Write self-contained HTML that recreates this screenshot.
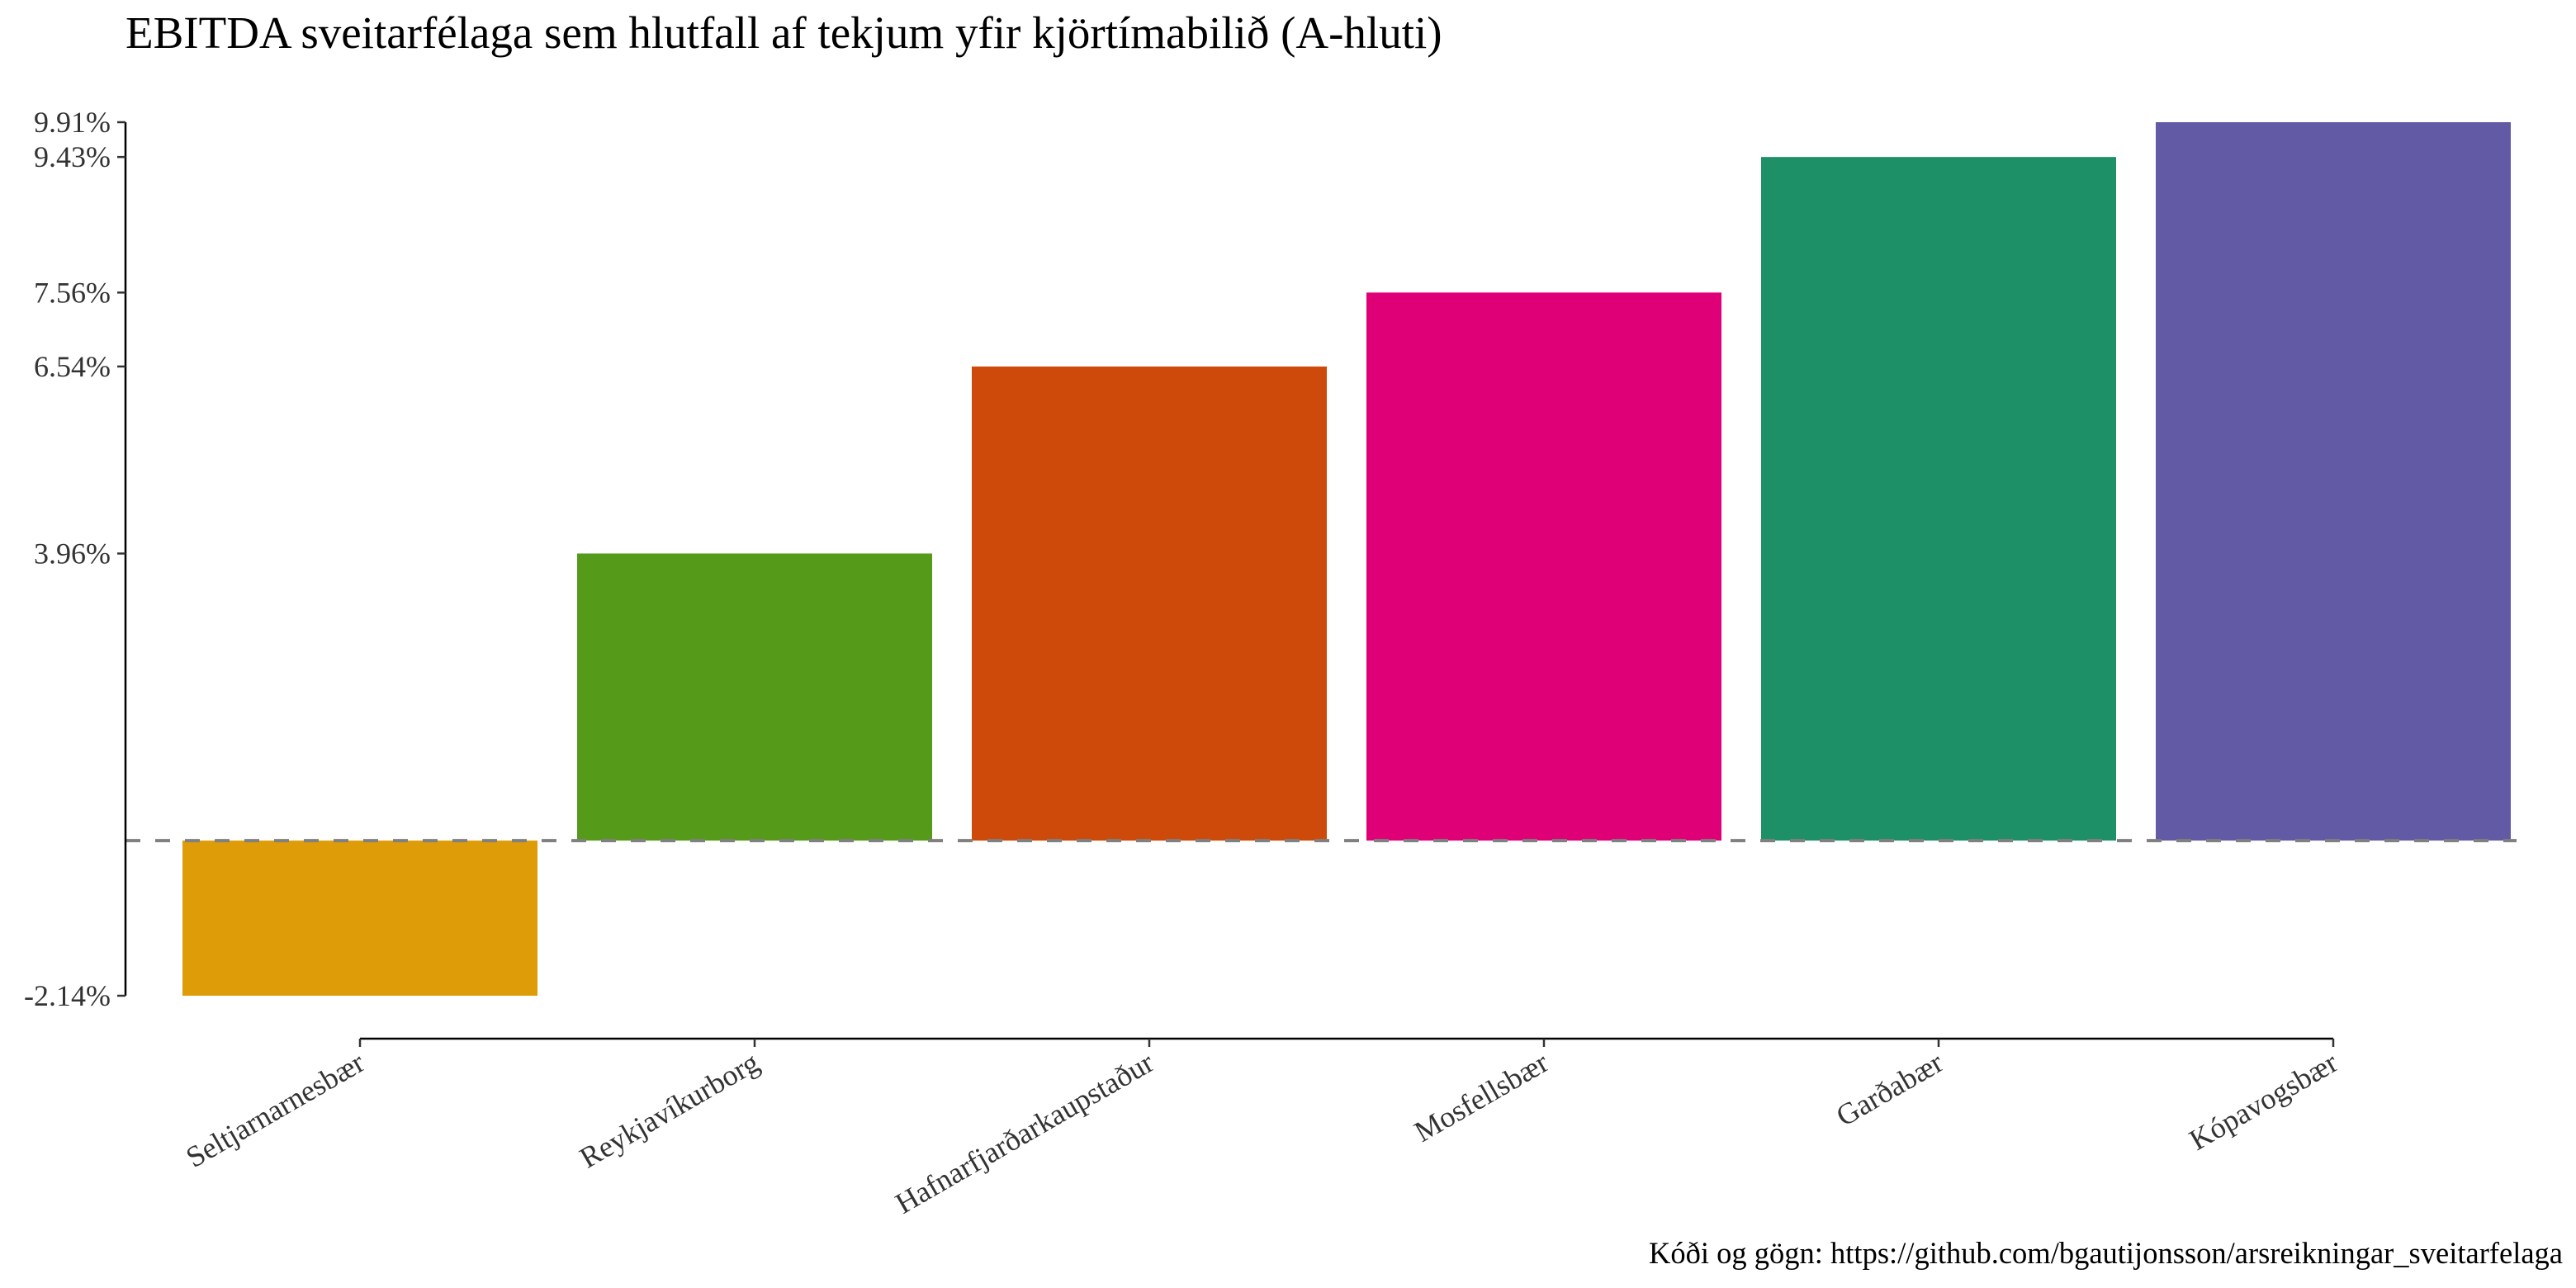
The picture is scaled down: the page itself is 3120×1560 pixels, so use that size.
<!DOCTYPE html>
<html><head><meta charset="utf-8"><style>
html,body{margin:0;padding:0;background:#fff;}
svg{display:block;font-family:"Liberation Serif",serif;}
</style></head><body>
<svg id="chart" width="3120" height="1560" viewBox="0 0 3120 1560">
<text x="152" y="58" font-size="55" fill="#000">EBITDA sveitarfélaga sem hlutfall af tekjum yfir kjörtímabilið (A-hluti)</text>
<g id="bars"></g>
<g id="yaxis"></g>
<g id="xaxis"></g>
<text x="3104" y="1530" font-size="36.5" text-anchor="end" fill="#000">Kóði og gögn: https://github.com/bgautijonsson/arsreikningar_sveitarfelaga</text>
</svg>
<script>
const categories = ["Seltjarnarnesbær","Reykjavíkurborg","Hafnarfjarðarkaupstaður","Mosfellsbær","Garðabær","Kópavogsbær"];
const values = [-2.14, 3.96, 6.54, 7.56, 9.43, 9.91];
const colors = ["#DD9C08","#569A1A","#CE4A0B","#DF0077","#1E9068","#625AA5"];
const tickLabels = ["-2.14%","3.96%","6.54%","7.56%","9.43%","9.91%"];

const NS = "http://www.w3.org/2000/svg";
const yMin = -2.14, yMax = 9.91, pyTop = 148, pyBot = 1206;
const y = v => pyBot - (v - yMin) / (yMax - yMin) * (pyBot - pyTop);
const x0 = 436, step = 478, barW = 430;
const x = i => x0 + i * step;
function mk(tag, attrs, parent){const e=document.createElementNS(NS,tag);for(const k in attrs)e.setAttribute(k,attrs[k]);parent.appendChild(e);return e;}

const bars = document.getElementById('bars');
values.forEach((v,i)=>{
  const r = mk('rect',{x:x(i)-barW/2,y:Math.min(y(v),y(0)),width:barW,height:Math.abs(y(v)-y(0)),fill:colors[i]},bars);
  
  
});
const zl = mk('line',{x1:152,x2:3048,y1:y(0),y2:y(0),stroke:"#808080","stroke-width":4,"stroke-dasharray":"18 18"},bars);



const ya = document.getElementById('yaxis');
mk('line',{x1:152,x2:152,y1:pyTop,y2:pyBot,stroke:"#000","stroke-width":2.5},ya);
tickLabels.forEach((t,i)=>{
  const v = parseFloat(t);
  mk('line',{x1:142,x2:152,y1:y(v),y2:y(v),stroke:"#333","stroke-width":2.5},ya);
  const tx = mk('text',{x:134,y:y(v)+12,"font-size":36,"text-anchor":"end",fill:"#333"},ya);
  tx.textContent = t;
  
  
});

const xa = document.getElementById('xaxis');
mk('line',{x1:x(0),x2:x(categories.length-1),y1:1258,y2:1258,stroke:"#000","stroke-width":2.5},xa);
categories.forEach((c,i)=>{
  mk('line',{x1:x(i),x2:x(i),y1:1258,y2:1268,stroke:"#333","stroke-width":2.5},xa);
  const tx = mk('text',{x:x(i)+8,y:1294,"font-size":36,"text-anchor":"end",fill:"#333",transform:`rotate(-30 ${x(i)+8} 1294)`},xa);
  tx.textContent = c;
  
  
});
</script>
</body></html>
